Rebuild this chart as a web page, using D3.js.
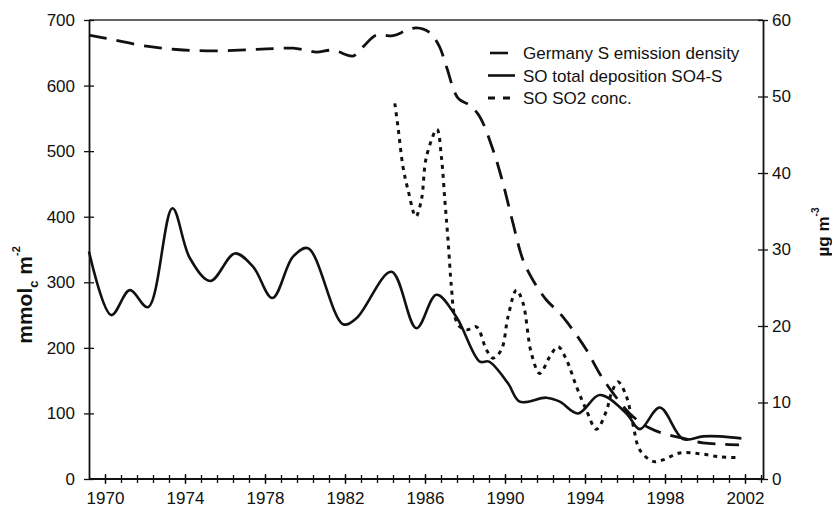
<!DOCTYPE html>
<html>
<head>
<meta charset="utf-8">
<script src="https://cdn.jsdelivr.net/npm/d3@7/dist/d3.min.js"></script>
<style>
  body { margin: 0; background: #fff; }
  text { font-family: "Liberation Sans", Arial, sans-serif; fill: #111; }
</style>
</head>
<body>
<script>
// values
var emissionYears = [1969.2, 1970.07, 1972.07, 1973.57, 1975.07, 1976.7, 1978.07, 1979.4, 1980.07, 1980.57, 1981.4, 1982.4, 1982.9, 1983.57, 1984.4, 1985.07, 1985.57, 1986.23, 1986.73, 1987.07, 1987.65, 1988.23, 1988.73, 1989.4, 1989.9, 1990.4, 1990.9, 1991.4, 1992.07, 1992.73, 1993.4, 1994.07, 1994.73, 1995.4, 1996.23, 1997.2, 1998.2, 1999.07, 1999.9, 2000.9, 2001.7];
var emission = [677, 672, 660, 655, 653, 654, 656, 657, 654, 651, 654, 645, 659, 677, 676, 684, 688, 681, 659, 629, 581, 570, 553, 502, 451, 390, 334, 303, 273, 253, 227, 197, 161, 131, 100, 78, 67, 61, 55, 53, 52];

var depositionYears = [1969.2, 1970.32, 1971.24, 1972.15, 1973.37, 1974.24, 1975.27, 1976.49, 1977.4, 1978.37, 1979.4, 1980.15, 1981.9, 1982.57, 1984.32, 1985.57, 1986.57, 1987.57, 1988.74, 1989.2, 1990.15, 1990.74, 1992.07, 1992.74, 1993.65, 1994.74, 1996.07, 1996.74, 1997.74, 1998.9, 1999.9, 2000.74, 2001.82];
var deposition = [347, 250, 288, 262, 413, 337, 302, 344, 324, 276, 339, 352, 236, 245, 316, 230, 281, 247, 179, 179, 146, 118, 124, 118, 100, 128, 100, 76, 109, 61, 65, 65, 62];

var so2Years = [1984.49, 1984.65, 1984.9, 1985.15, 1985.54, 1985.82, 1986.07, 1986.6, 1986.82, 1986.99, 1987.15, 1987.32, 1987.49, 1987.74, 1988.1, 1988.57, 1989.07, 1989.4, 1989.82, 1990.15, 1990.57, 1990.9, 1991.32, 1991.74, 1992.24, 1992.65, 1993.07, 1993.57, 1994.07, 1994.57, 1995.07, 1995.32, 1995.65, 1996.07, 1996.4, 1996.74, 1997.4, 1997.9, 1998.74, 1999.74, 2000.74, 2001.74];
var so2 = [49.1, 46.0, 40.8, 37.8, 34.3, 36.5, 42.1, 45.7, 42.1, 36.5, 31.3, 25.1, 21.2, 19.9, 19.5, 19.9, 16.9, 15.8, 16.9, 21.2, 24.7, 23.0, 16.4, 13.8, 16.0, 17.3, 15.6, 12.1, 9.0, 6.5, 8.9, 11.2, 12.7, 10.8, 7.1, 3.8, 2.3, 2.5, 3.4, 3.3, 2.9, 2.8];

var yearTicks = [1970, 1974, 1978, 1982, 1986, 1990, 1994, 1998, 2002];
var leftTicks = [0, 100, 200, 300, 400, 500, 600, 700];
var rightTicks = [0, 10, 20, 30, 40, 50, 60];
var legendLabels = ["Germany S emission density", "SO total deposition SO4-S", "SO SO2 conc."];

var width = 832, height = 508;
var pLeft = 89, pRight = 763, pTop = 20, pBottom = 479;

var svg = d3.select("body").append("svg")
    .attr("width", width)
    .attr("height", height);

var x = d3.scaleLinear().domain([1969.2, 2002.9]).range([pLeft, pRight]);
var yL = d3.scaleLinear().domain([0, 700]).range([pBottom, pTop]);
var yR = d3.scaleLinear().domain([0, 60]).range([pBottom, pTop]);

// minor ticks every 0.8 year, as on the original axis
var minorTicks = d3.range(1, 43).map(function(k) { return +(1969.2 + 0.8 * k).toFixed(1); })
    .filter(function(v) { return v < 2002.9; });

// top frame line
svg.append("line")
    .attr("x1", pLeft).attr("x2", pRight)
    .attr("y1", pTop).attr("y2", pTop)
    .style("stroke", "#333").style("stroke-width", 1.5);

function styleAxis(g) {
    g.select(".domain").style("stroke", "#111").style("stroke-width", 1.8);
    g.selectAll(".tick line").style("stroke", "#111").style("stroke-width", 1.3);
    g.selectAll(".tick text")
        .style("font-size", "17px")
        .style("font-family", "'Liberation Sans', Arial, sans-serif")
        .style("fill", "#111");
}

// bottom axis: minor ticks
var gMinor = svg.append("g")
    .attr("transform", "translate(0," + pBottom + ")")
    .call(d3.axisBottom(x).tickValues(minorTicks).tickSize(0).tickSizeOuter(0).tickFormat(""));
gMinor.select(".domain").remove();
gMinor.selectAll(".tick line").attr("y1", -4).attr("y2", 4)
    .style("stroke", "#111").style("stroke-width", 1.3);

// bottom axis: labelled years
var gx = svg.append("g")
    .attr("transform", "translate(0," + pBottom + ")")
    .call(d3.axisBottom(x).tickValues(yearTicks).tickSizeOuter(0).tickSize(0)
        .tickFormat(d3.format("d")));
gx.selectAll(".tick line").attr("y1", -5).attr("y2", 5);
gx.select(".domain").attr("d", "M" + pLeft + ",0H" + pRight);
styleAxis(gx);
gx.selectAll(".tick text").attr("dy", null).attr("y", 25);

// left axis
var gl = svg.append("g")
    .attr("transform", "translate(" + pLeft + ",0)")
    .call(d3.axisLeft(yL).tickValues(leftTicks).tickSize(0).tickSizeOuter(0).tickPadding(14));
gl.selectAll(".tick line").attr("x1", -5).attr("x2", 5);
styleAxis(gl);

// right axis
var gr = svg.append("g")
    .attr("transform", "translate(" + pRight + ",0)")
    .call(d3.axisRight(yR).tickValues(rightTicks).tickSize(0).tickSizeOuter(0).tickPadding(9));
gr.selectAll(".tick line").attr("x1", -5).attr("x2", 5);
styleAxis(gr);

// axis titles
var tl = svg.append("text")
    .attr("transform", "translate(32,295) rotate(-90)")
    .attr("text-anchor", "middle")
    .style("font-size", "21px").style("font-weight", "bold");
tl.append("tspan").text("mmol");
tl.append("tspan").attr("dy", 6).style("font-size", "13px").text("c");
tl.append("tspan").attr("dy", -6).text(" m");
tl.append("tspan").attr("dy", -12).style("font-size", "11px").text("-2");

var tr = svg.append("text")
    .attr("transform", "translate(829,232) rotate(-90)")
    .attr("text-anchor", "middle")
    .style("font-size", "17px").style("font-weight", "bold");
tr.append("tspan").text("µg m");
tr.append("tspan").attr("dy", -10).style("font-size", "10px").text("-3");

// lines
var lineL = d3.line()
    .x(function(d) { return x(d[0]); })
    .y(function(d) { return yL(d[1]); })
    .curve(d3.curveCatmullRom.alpha(0.5));
var lineR = d3.line()
    .x(function(d) { return x(d[0]); })
    .y(function(d) { return yR(d[1]); })
    .curve(d3.curveCatmullRom.alpha(0.5));

svg.append("path")
    .datum(d3.zip(so2Years, so2))
    .attr("d", lineR)
    .style("fill", "none").style("stroke", "#111")
    .style("stroke-width", 3).style("stroke-dasharray", "4,5");

svg.append("path")
    .datum(d3.zip(emissionYears, emission))
    .attr("d", lineL)
    .style("fill", "none").style("stroke", "#111")
    .style("stroke-width", 2.8).style("stroke-dasharray", "18,10");

svg.append("path")
    .datum(d3.zip(depositionYears, deposition))
    .attr("d", lineL)
    .style("fill", "none").style("stroke", "#111")
    .style("stroke-width", 2.6);

// legend
var legendDash = ["18,10", "none", "7,8"];
var legend = svg.selectAll(".legend")
    .data(legendLabels)
    .enter().append("g")
    .attr("class", "legend")
    .attr("transform", function(d, i) { return "translate(488," + (53 + i * 22.5) + ")"; });
legend.append("line")
    .attr("x1", 0).attr("x2", 27)
    .style("stroke", "#111")
    .style("stroke-width", function(d, i) { return i === 2 ? 3 : 2.6; })
    .style("stroke-dasharray", function(d, i) { return legendDash[i]; })
    .style("stroke-dashoffset", function(d, i) { return i === 0 ? -2 : 0; });
legend.append("text")
    .attr("x", 35).attr("y", 6)
    .style("font-size", "17px")
    .text(function(d) { return d; });
</script>
</body>
</html>
